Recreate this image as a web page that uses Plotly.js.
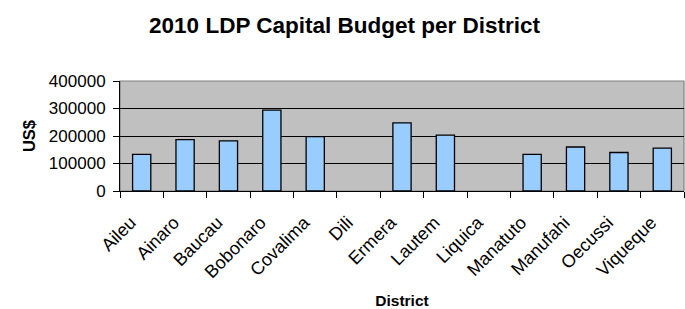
<!DOCTYPE html>
<html><head><meta charset="utf-8">
<script src="https://cdn.plot.ly/plotly-3.0.1.min.js"></script>
<style>html,body{margin:0;padding:0;background:#fff}#chart{width:685px;height:309px}</style>
</head><body><div id="chart"></div>
<script>
var districts = ["Aileu","Ainaro","Baucau","Bobonaro","Covalima","Dili","Ermera","Lautem","Liquica","Manatuto","Manufahi","Oecussi","Viqueque"];
var budget = [133000,187000,182000,294000,198000,null,248000,203000,null,133000,160000,140000,156000];
var yTicks = [0,100000,200000,300000,400000];

var trace = {
  type: "bar", x: districts, y: budget,
  marker: {color: "#99CCFF", line: {color: "#000000", width: 1.3}},
  hoverinfo: "x+y"
};
var layout = {
  width: 685, height: 309,
  margin: {l: 120, r: 1, t: 81, b: 118},
  paper_bgcolor: "#ffffff", plot_bgcolor: "#C0C0C0",
  font: {family: "Arial, Liberation Sans, sans-serif", size: 15, color: "#000"},
  title: {text: "<b>2010 LDP Capital Budget per District</b>", font: {size: 22.5}, x: 0.503, xanchor: "center", y: 0.92, yanchor: "middle"},
  bargap: 0.58,
  showlegend: false,
  xaxis: {
    type: "category", tickangle: -45, tickson: "boundaries",
    ticks: "outside", ticklen: 6, tickcolor: "#000",
    showline: true, linecolor: "#000", linewidth: 1,
    showgrid: false, zeroline: false,
    tickfont: {size: 18},
    ticklabelstandoff: 13, ticklabelshift: -11,
    automargin: false,
    title: {text: "<b>District</b>", font: {size: 15.5}, standoff: 14}
  },
  yaxis: {
    range: [0, 400000], tickvals: yTicks, ticktext: yTicks.map(String),
    ticks: "outside", ticklen: 6, tickcolor: "#000",
    showline: true, linecolor: "#000", linewidth: 1,
    showgrid: true, gridcolor: "#000", gridwidth: 1,
    zeroline: false, tickfont: {size: 17},
    ticklabelstandoff: 4,
    automargin: false,
    title: {text: "<b>US$</b>", font: {size: 16.5}, standoff: 9}
  },
  shapes: [{type: "rect", xref: "paper", yref: "paper", x0: 0, x1: 1, y0: 0, y1: 1, line: {color: "#808080", width: 1.2}, layer: "below"}]
};
Plotly.newPlot("chart", [trace], layout, {displayModeBar: false, staticPlot: true});
</script></body></html>
